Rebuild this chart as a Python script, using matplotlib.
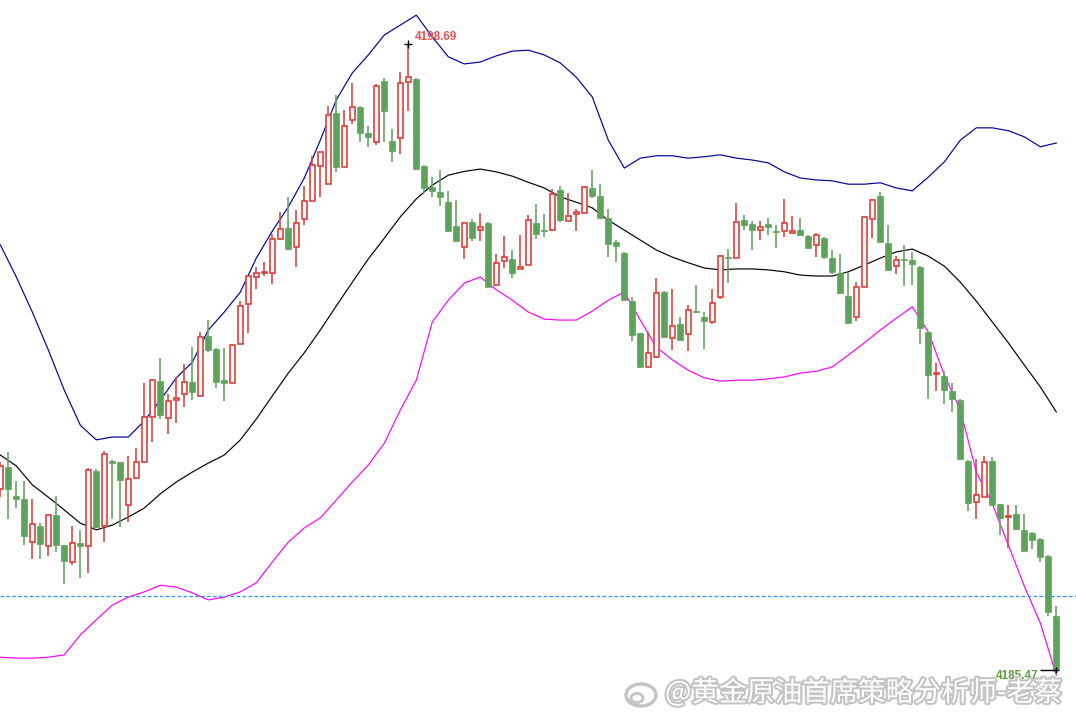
import numpy as np
import matplotlib
matplotlib.use('Agg')
import matplotlib.pyplot as plt
import matplotlib.patheffects as pe
from matplotlib.patches import Ellipse

# K线数据 (开, 高, 低, 收)
opens = [4189.29, 4189.76, 4189.14, 4189.08, 4188.17, 4188.51, 4188.09, 4188.74, 4188.11, 4187.75,
         4188.15, 4188.09, 4189.67, 4188.51, 4189.88, 4189.86, 4188.95, 4189.53, 4189.86, 4190.81,
         4191.57, 4190.79, 4191.17, 4191.30, 4191.55, 4191.26, 4192.52, 4192.25, 4191.59, 4191.53,
         4192.36, 4193.20, 4193.77, 4193.85, 4193.85, 4194.57, 4194.80, 4194.40, 4195.00, 4195.38,
         4196.11, 4195.73, 4197.23, 4196.09, 4197.09, 4197.36, 4196.81, 4196.62, 4197.91, 4196.64,
         4196.71, 4197.89, 4197.95, 4196.11, 4195.67, 4195.57, 4195.35, 4194.85, 4194.40, 4194.93,
         4194.76, 4194.91, 4193.60, 4194.11, 4194.15, 4193.94, 4194.02, 4194.91, 4194.76, 4194.76,
         4195.61, 4194.95, 4195.10, 4195.12, 4195.65, 4195.48, 4195.02, 4194.51, 4194.28, 4193.26,
         4192.59, 4191.87, 4192.08, 4193.45, 4192.48, 4192.78, 4192.57, 4193.05, 4192.93, 4192.82,
         4193.35, 4194.19, 4194.17, 4194.97, 4194.89, 4194.76, 4194.89, 4194.74, 4194.74, 4194.70,
         4194.76, 4194.64, 4194.45, 4194.59, 4194.17, 4193.85, 4193.37, 4192.93, 4193.56, 4195.00,
         4195.48, 4194.49, 4194.00, 4194.15, 4194.13, 4193.98, 4192.61, 4191.72, 4191.68, 4191.36,
         4191.17, 4189.88, 4189.02, 4189.12, 4189.88, 4188.98, 4188.70, 4188.76, 4188.43, 4188.36,
         4188.24, 4187.88, 4186.61]
highs = [4189.86, 4190.07, 4189.46, 4189.46, 4189.08, 4188.57, 4188.76, 4189.14, 4188.11, 4188.51,
         4188.43, 4189.74, 4189.72, 4190.10, 4189.91, 4189.86, 4189.99, 4190.16, 4191.53, 4191.62,
         4192.06, 4191.30, 4191.66, 4191.93, 4192.29, 4192.61, 4192.86, 4192.27, 4192.27, 4192.36,
         4193.26, 4193.79, 4193.98, 4194.09, 4194.68, 4195.14, 4195.46, 4195.18, 4195.69, 4196.33,
         4196.41, 4197.38, 4197.61, 4197.30, 4197.87, 4197.38, 4196.96, 4197.85, 4197.97, 4196.90,
         4198.10, 4198.69, 4197.97, 4196.14, 4195.88, 4196.03, 4195.59, 4195.40, 4194.93, 4195.00,
         4195.12, 4194.93, 4194.26, 4194.64, 4194.34, 4194.66, 4195.08, 4195.31, 4195.10, 4195.63,
         4195.69, 4195.54, 4195.21, 4195.69, 4196.03, 4195.73, 4195.21, 4194.55, 4194.30, 4193.35,
         4192.59, 4192.61, 4193.75, 4193.47, 4193.52, 4192.93, 4193.18, 4193.60, 4193.03, 4193.52,
         4194.23, 4194.36, 4195.33, 4195.08, 4194.95, 4194.95, 4195.02, 4194.87, 4195.42, 4195.06,
         4195.02, 4194.66, 4194.70, 4194.62, 4194.34, 4194.26, 4193.88, 4193.66, 4195.06, 4195.42,
         4195.57, 4194.87, 4194.21, 4194.45, 4194.30, 4194.00, 4192.63, 4191.95, 4191.78, 4191.53,
         4191.19, 4189.91, 4189.93, 4189.99, 4189.97, 4188.98, 4188.95, 4188.95, 4188.76, 4188.38,
         4188.26, 4187.90, 4186.82]
lows = [4189.12, 4188.66, 4188.89, 4188.11, 4187.81, 4187.81, 4187.88, 4187.96, 4187.29, 4187.69,
        4187.41, 4187.52, 4188.47, 4188.17, 4188.66, 4188.49, 4188.60, 4189.50, 4189.86, 4190.29,
        4190.77, 4190.45, 4190.69, 4191.02, 4191.17, 4191.26, 4192.19, 4191.43, 4191.15, 4191.53,
        4192.36, 4192.59, 4193.52, 4193.79, 4193.62, 4194.57, 4194.36, 4193.98, 4194.87, 4195.38,
        4195.46, 4195.73, 4195.99, 4196.09, 4197.00, 4196.62, 4196.52, 4196.56, 4196.62, 4196.20,
        4196.37, 4197.28, 4196.05, 4195.54, 4195.46, 4195.27, 4194.74, 4194.53, 4194.15, 4194.53,
        4194.53, 4193.56, 4193.60, 4193.96, 4193.75, 4193.94, 4194.02, 4194.57, 4194.62, 4194.76,
        4194.93, 4194.95, 4194.74, 4195.12, 4195.44, 4195.02, 4194.19, 4194.09, 4193.28, 4192.42,
        4191.87, 4191.87, 4192.06, 4192.50, 4192.23, 4192.44, 4192.21, 4193.01, 4192.25, 4192.78,
        4193.31, 4193.64, 4194.17, 4194.76, 4194.34, 4194.55, 4194.66, 4194.38, 4194.62, 4194.70,
        4194.66, 4194.38, 4194.19, 4194.15, 4193.83, 4193.43, 4192.80, 4192.84, 4193.56, 4194.59,
        4194.51, 4193.92, 4193.83, 4193.58, 4193.60, 4192.36, 4191.19, 4191.36, 4191.09, 4190.92,
        4189.93, 4188.83, 4188.66, 4189.12, 4188.95, 4188.32, 4188.05, 4188.43, 4187.98, 4188.03,
        4187.75, 4186.61, 4185.47]
closes = [4189.78, 4189.29, 4189.08, 4188.30, 4188.55, 4188.13, 4188.74, 4188.11, 4187.77, 4188.15,
          4188.09, 4189.69, 4188.49, 4190.03, 4189.84, 4189.48, 4189.50, 4189.86, 4190.81, 4191.59,
          4190.86, 4191.15, 4191.21, 4191.55, 4191.34, 4192.50, 4192.23, 4191.55, 4191.53, 4192.33,
          4193.16, 4193.79, 4193.85, 4193.88, 4194.57, 4194.78, 4194.36, 4194.91, 4195.38, 4196.14,
          4196.41, 4197.19, 4196.09, 4196.96, 4197.36, 4196.81, 4196.73, 4197.80, 4197.28, 4196.43,
          4197.87, 4197.99, 4196.05, 4195.65, 4195.59, 4195.46, 4194.74, 4194.53, 4194.91, 4194.59,
          4194.83, 4193.56, 4194.07, 4194.19, 4193.85, 4193.98, 4194.97, 4194.68, 4194.74, 4195.52,
          4194.97, 4195.06, 4195.14, 4195.67, 4195.48, 4195.02, 4194.47, 4194.42, 4193.28, 4192.55,
          4191.87, 4192.17, 4193.43, 4192.50, 4192.74, 4192.44, 4193.07, 4193.03, 4192.84, 4193.22,
          4194.21, 4194.17, 4194.93, 4194.87, 4194.76, 4194.83, 4194.83, 4194.72, 4194.91, 4194.74,
          4194.66, 4194.38, 4194.66, 4194.19, 4193.88, 4193.43, 4192.80, 4193.56, 4195.04, 4195.40,
          4194.51, 4193.92, 4194.13, 4194.13, 4194.04, 4192.69, 4191.70, 4191.74, 4191.38, 4191.19,
          4189.93, 4189.00, 4189.17, 4189.86, 4188.95, 4188.68, 4188.72, 4188.45, 4187.98, 4188.22,
          4187.86, 4186.70, 4185.50]

# 布林带 (每两根K线读一个点)
band_bars = list(range(0, 133, 2))
boll_upper = [4194.45, 4193.77, 4193.03, 4192.23, 4191.38, 4190.64, 4190.33, 4190.39, 4190.39, 4190.73,
              4191.17, 4191.64, 4191.97, 4192.65, 4193.03, 4193.45, 4194.17, 4194.74, 4195.25, 4195.86,
              4196.66, 4197.51, 4198.08, 4198.46, 4198.88, 4199.09, 4199.30, 4198.84, 4198.42, 4198.27,
              4198.31, 4198.44, 4198.54, 4198.56, 4198.46, 4198.29, 4197.99, 4197.57, 4196.66, 4196.07,
              4196.28, 4196.33, 4196.33, 4196.28, 4196.31, 4196.35, 4196.28, 4196.24, 4196.18, 4195.99,
              4195.86, 4195.82, 4195.80, 4195.73, 4195.73, 4195.76, 4195.65, 4195.59, 4195.88, 4196.20,
              4196.66, 4196.92, 4196.92, 4196.86, 4196.73, 4196.52, 4196.60]
boll_mid = [4190.01, 4189.78, 4189.38, 4189.12, 4188.85, 4188.57, 4188.43, 4188.53, 4188.70, 4188.89,
            4189.19, 4189.44, 4189.65, 4189.84, 4190.01, 4190.33, 4190.77, 4191.26, 4191.74, 4192.17,
            4192.65, 4193.16, 4193.66, 4194.15, 4194.59, 4195.04, 4195.42, 4195.71, 4195.92, 4196.00,
            4196.05, 4195.99, 4195.90, 4195.77, 4195.65, 4195.46, 4195.35, 4195.23, 4194.97, 4194.76,
            4194.55, 4194.34, 4194.19, 4194.07, 4193.96, 4193.92, 4193.94, 4193.94, 4193.92, 4193.88,
            4193.81, 4193.79, 4193.79, 4193.88, 4194.02, 4194.17, 4194.30, 4194.36, 4194.21, 4194.00,
            4193.66, 4193.26, 4192.82, 4192.38, 4191.91, 4191.45, 4190.92]
boll_lower = [4185.74, 4185.72, 4185.72, 4185.74, 4185.79, 4186.21, 4186.53, 4186.84, 4187.01, 4187.12,
              4187.26, 4187.22, 4187.10, 4186.95, 4187.01, 4187.12, 4187.31, 4187.75, 4188.17, 4188.47,
              4188.68, 4189.06, 4189.44, 4189.80, 4190.26, 4190.96, 4191.59, 4192.82, 4193.28, 4193.64,
              4193.77, 4193.50, 4193.28, 4193.03, 4192.88, 4192.86, 4192.86, 4193.05, 4193.28, 4193.45,
              4192.86, 4192.29, 4192.02, 4191.80, 4191.64, 4191.57, 4191.59, 4191.59, 4191.62, 4191.66,
              4191.74, 4191.78, 4191.87, 4192.12, 4192.38, 4192.65, 4192.90, 4193.14, 4192.61, 4191.70,
              4190.96, 4189.65, 4188.98, 4188.11, 4187.24, 4186.46, 4185.36]

high_label = "4198.69"
low_label = "4185.47"
dash_level = 4187.03
watermark = "@黄金原油首席策略分析师-老蔡"

RED = '#de3f38'
GREEN = '#5ea35a'

o = np.array(opens)
h = np.array(highs)
l = np.array(lows)
c = np.array(closes)
idx = np.arange(len(o))
up = c >= o

fig = plt.figure(figsize=(10.76, 7.18), dpi=100)
ax = fig.add_axes([0, 0, 1, 1])
ax.set_xlim(-0.0375, 134.46)
ax.set_ylim(4184.456, 4199.62)
ax.axis('off')

# 布林带线
ax.plot(band_bars, boll_upper, color='#00009c', lw=0.85, zorder=1)
ax.plot(band_bars, boll_mid, color='black', lw=0.85, zorder=1)
ax.plot(band_bars, boll_lower, color='#ff00ff', lw=0.85, zorder=1)

# 影线
ax.vlines(idx[up], l[up], h[up], color=RED, lw=1.15, zorder=2)
ax.vlines(idx[~up], l[~up], h[~up], color=GREEN, lw=1.15, zorder=2)

# 实体
body_lo = np.minimum(o, c)
body_h = np.maximum(np.abs(c - o), 0.02)
ax.bar(idx[up], body_h[up], bottom=body_lo[up], width=0.64, facecolor='white',
       edgecolor=RED, linewidth=1.2, zorder=3)
ax.bar(idx[~up], body_h[~up], bottom=body_lo[~up], width=0.78, facecolor=GREEN,
       edgecolor=GREEN, linewidth=0.5, zorder=3)

# 当前价虚线
ax.axhline(dash_level, color='#1e90ff', lw=0.85, linestyle=(0, (3, 2)), zorder=1)

# 最高点 / 最低点标注
hi_i = int(np.argmax(h))
lo_i = int(np.argmin(l))
ax.plot(hi_i, h[hi_i], marker='+', color='black', ms=6, mew=1.0, zorder=4)
ax.text(hi_i + 0.8, h[hi_i] + 0.15, high_label, color='#e05050', fontsize=8.5,
        fontweight='bold', family='Liberation Sans', va='center', ha='left')
ax.hlines(l[lo_i], lo_i - 2.1, lo_i, color='black', lw=1.0, zorder=4)
ax.plot(lo_i, l[lo_i], marker='+', color='black', ms=5, mew=1.0, zorder=4)
ax.text(lo_i - 2.3, l[lo_i] - 0.13, low_label, color='#5d9e3c', fontsize=8.5,
        fontweight='bold', family='Liberation Sans', va='center', ha='right', zorder=6)

# 水印
shadow = [pe.withStroke(linewidth=3, foreground='#c4c4c4')]
fig.text(665 / 1076, 1 - 693 / 718, watermark, color='white', fontsize=20,
         family=['Noto Sans CJK SC', 'DejaVu Sans'], va='center', ha='left',
         path_effects=shadow, zorder=5)
logo = Ellipse((641 / 1076, 1 - 695 / 718), 30 / 1076, 22 / 718, transform=fig.transFigure,
               facecolor='white', edgecolor='#c4c4c4', lw=2.5, zorder=5)
fig.add_artist(logo)
eye = Ellipse((637 / 1076, 1 - 698 / 718), 12 / 1076, 9 / 718, transform=fig.transFigure,
              facecolor='white', edgecolor='#c4c4c4', lw=2, zorder=6)
fig.add_artist(eye)

fig.savefig('out.png', dpi=100)
